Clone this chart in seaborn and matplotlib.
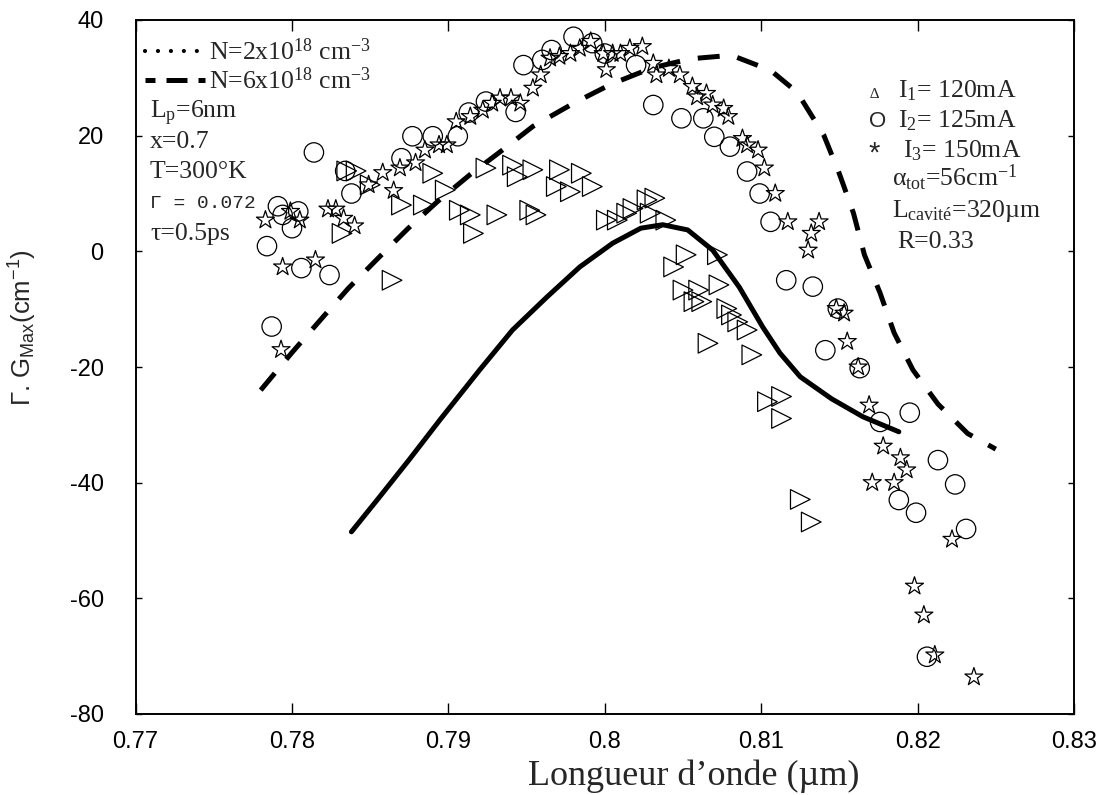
import matplotlib
matplotlib.use("Agg")
import matplotlib.pyplot as plt
from matplotlib.lines import Line2D
import seaborn as sns

# ---------------- data ----------------
# computed gain curve, N = 2e18 cm^-3 (solid)
wl_n2 = [0.7838, 0.7855, 0.7875, 0.7895, 0.7920, 0.7941, 0.7963, 0.7984, 0.8005,
         0.8023, 0.8037, 0.8053, 0.8069, 0.8086, 0.8101, 0.8112, 0.8125, 0.8145,
         0.8165, 0.8188]
gain_n2 = [-48.5, -42.8, -36.0, -29.0, -20.5, -13.6, -7.9, -2.7, 1.4,
           4.0, 4.6, 3.7, 0.2, -6.2, -13.1, -17.6, -21.7, -25.5,
           -28.6, -31.2]

# computed gain curve, N = 6e18 cm^-3 (dashed)
wl_n6 = [0.7780, 0.7800, 0.7820, 0.7836, 0.7855, 0.7874, 0.7893, 0.7914, 0.7935,
         0.7954, 0.7980, 0.8004, 0.8030, 0.8055, 0.8081, 0.8106, 0.8123, 0.8140,
         0.8150, 0.8159, 0.8166, 0.8176, 0.8185, 0.8197, 0.8213, 0.8232, 0.8250]
gain_n6 = [-24.0, -17.5, -11.3, -6.4, -1.2, 3.9, 8.6, 13.3, 17.6,
           21.6, 25.6, 28.9, 31.7, 33.3, 33.9, 31.3, 27.5, 20.1,
           13.4, 6.6, -0.6, -7.2, -14.1, -20.5, -26.4, -31.5, -34.2]

# measured gain, I1 = 120 mA
wl_i1 = [0.7835, 0.7841, 0.7850, 0.7832, 0.7864, 0.7870, 0.7884, 0.7890, 0.7898,
         0.7907, 0.7914, 0.7916, 0.7931, 0.7952, 0.7956, 0.7924, 0.7941, 0.7944,
         0.7954, 0.7971, 0.7969, 0.7978, 0.7985, 0.7992, 0.8001, 0.8008, 0.8014,
         0.8018, 0.8027, 0.8032, 0.8029, 0.8039, 0.8044, 0.8052, 0.8050, 0.8060,
         0.8057, 0.8062, 0.8072, 0.8073, 0.8078, 0.8081, 0.8085, 0.8091, 0.8066,
         0.8094, 0.8104, 0.8113, 0.8113, 0.8125, 0.8132]
gain_i1 = [13.9, 13.9, 11.5, 3.1, -5.0, 8.0, 8.0, 13.5, 10.6,
           7.1, 6.3, 3.1, 6.3, 7.1, 6.3, 14.4, 14.9, 12.9,
           14.1, 14.1, 11.2, 10.3, 13.5, 11.2, 5.4, 5.4, 6.6,
           7.4, 8.9, 9.2, 6.6, 5.4, -2.7, -0.6, -6.7, -6.7,
           -8.7, -8.7, -0.6, -5.8, -9.9, -11.0, -12.2, -13.6, -15.9,
           -17.9, -26.0, -25.1, -28.9, -42.9, -46.8]

# measured gain, I2 = 125 mA
wl_i2 = [0.7787, 0.7784, 0.7814, 0.7834, 0.7838, 0.7791, 0.7804, 0.7794, 0.7800,
         0.7806, 0.7824, 0.7870, 0.7877, 0.7890, 0.7906, 0.7913, 0.7924, 0.7943,
         0.7948, 0.7960, 0.7966, 0.7980, 0.7992, 0.8000, 0.8020, 0.8031, 0.8049,
         0.8063, 0.8070, 0.8080, 0.8091, 0.8099, 0.8106, 0.8116, 0.8133, 0.8149,
         0.8141, 0.8163, 0.8176, 0.8195, 0.8213, 0.8224, 0.8188, 0.8199, 0.8231,
         0.8206]
gain_i2 = [-13.0, 0.9, 17.1, 13.9, 10.0, 7.8, 6.9, 6.3, 4.0,
           -2.9, -4.1, 16.1, 19.9, 19.9, 19.9, 24.0, 25.9, 24.1,
           32.2, 33.1, 34.8, 37.1, 36.0, 34.2, 32.2, 25.3, 23.0,
           23.0, 19.8, 18.1, 13.8, 10.0, 5.1, -5.0, -6.1, -9.9,
           -17.1, -20.2, -29.5, -27.9, -36.1, -40.3, -43.0, -45.2, -48.0,
           -70.1]

# measured gain, I3 = 150 mA
wl_i3 = [0.7793, 0.7783, 0.7799, 0.7805, 0.7823, 0.7828, 0.7833, 0.7840, 0.7794,
         0.7815, 0.7849, 0.7858, 0.7869, 0.7879, 0.7865, 0.7885, 0.7894, 0.7899,
         0.7905, 0.7914, 0.7922, 0.7928, 0.7946, 0.7933, 0.7940, 0.7954, 0.7959,
         0.7965, 0.7971, 0.7978, 0.7984, 0.7991, 0.8001, 0.7999, 0.8005, 0.8010,
         0.8016, 0.8024, 0.8031, 0.8033, 0.8041, 0.8048, 0.8056, 0.8059, 0.8065,
         0.8069, 0.8076, 0.8079, 0.8088, 0.8091, 0.8098, 0.8102, 0.8109, 0.8117,
         0.8137, 0.8132, 0.8130, 0.8148, 0.8153, 0.8155, 0.8162, 0.8169, 0.8178,
         0.8189, 0.8193, 0.8171, 0.8185, 0.8222, 0.8198, 0.8204, 0.8211, 0.8236]
gain_i3 = [-17.0, 5.4, 6.9, 5.4, 7.3, 7.3, 5.7, 4.4, -2.7,
           -1.5, 11.5, 13.6, 14.4, 15.3, 10.5, 17.5, 18.4, 18.4,
           22.4, 23.3, 24.4, 25.6, 25.6, 26.5, 26.5, 28.2, 30.5,
           33.4, 33.7, 34.2, 35.1, 36.3, 31.4, 34.2, 34.2, 34.2,
           35.1, 35.4, 32.5, 30.5, 31.6, 30.5, 28.5, 26.7, 27.3,
           25.3, 24.7, 23.3, 19.5, 18.4, 17.5, 14.4, 10.0, 5.1,
           5.1, 3.1, 0.2, -9.9, -10.7, -15.6, -20.0, -26.6, -33.7,
           -35.7, -37.8, -40.0, -40.0, -49.8, -57.9, -62.9, -69.8, -73.6]

xticks = [0.77, 0.78, 0.79, 0.80, 0.81, 0.82, 0.83]
xtick_labels = ["0.77", "0.78", "0.79", "0.8", "0.81", "0.82", "0.83"]
yticks = [-80, -60, -40, -20, 0, 20, 40]

legend_labels = [r"N=2x10$^{18}$ cm$^{-3}$", r"N=6x10$^{18}$ cm$^{-3}$"]
left_notes = [r"L$_{p}$=6nm", "x=0.7", "T=300°K", "Γ = 0.072", "τ=0.5ps"]
current_labels = [r"I$_{1}$= 120mA", r"I$_{2}$= 125mA", r"I$_{3}$= 150mA"]
right_notes = [r"α$_{tot}$=56cm$^{-1}$", r"L$_{cavité}$=320µm", "R=0.33"]

# ---------------- style ----------------
sns.set_theme(style="ticks")
plt.rcParams.update({
    "font.family": ["Liberation Sans", "DejaVu Sans"],
    "mathtext.default": "regular",
    "axes.unicode_minus": False,
    "axes.edgecolor": "black",
    "axes.linewidth": 1.4,
    "xtick.color": "black",
    "ytick.color": "black",
})

SERIF = ["Liberation Serif", "DejaVu Serif"]
SANS = ["Liberation Sans", "DejaVu Sans"]

W, H = 1100, 795
fig = plt.figure(figsize=(W / 100, H / 100), dpi=100)
fig.patch.set_facecolor("white")
L, R, T, B = 135.6, 1074.0, 20.0, 714.0
ax = fig.add_axes([L / W, 1 - B / H, (R - L) / W, (B - T) / H])
ax.set_facecolor("white")


def fxy(px, py):
    """pixel position -> figure fraction"""
    return px / W, 1 - py / H


# ---------------- curves ----------------
sns.lineplot(x=wl_n2, y=gain_n2, color="black", linewidth=3.6, sort=False,
             estimator=None, ax=ax, zorder=2)
sns.lineplot(x=wl_n6, y=gain_n6, color="black", linewidth=3.6, sort=False,
             estimator=None, linestyle=(0, (4.4, 3.6)), ax=ax, zorder=2)

# ---------------- measured points ----------------
marker_kw = dict(facecolor="none", edgecolor="black", linewidth=0.9,
                 legend=False, ax=ax, zorder=3)
sns.scatterplot(x=wl_i1, y=gain_i1, marker=">", s=200, **marker_kw)
sns.scatterplot(x=wl_i2, y=gain_i2, marker="o", s=195, **marker_kw)
sns.scatterplot(x=wl_i3, y=gain_i3, marker="*", s=185, **marker_kw)

# ---------------- axes ----------------
ax.set_xlim(0.77, 0.83)
ax.set_ylim(-80, 40)
ax.set_xticks(xticks)
ax.set_xticklabels(xtick_labels)
ax.set_yticks(yticks)
ax.tick_params(direction="in", top=True, right=True, width=1.0,
               labelsize=17)
ax.tick_params(axis="x", length=8, pad=12.5)
ax.tick_params(axis="y", length=4.5, pad=23)
for lab in ax.get_xticklabels() + ax.get_yticklabels():
    lab.set_family(SANS)
for sp in ax.spines.values():
    sp.set_visible(True)
    sp.set_color("black")

ax.set_xlabel("Longueur d’onde (µm)", family=SERIF, fontsize=26)
ax.xaxis.label.set_va("baseline")
ax.xaxis.set_label_coords((694 - L) / (R - L), -(785 - B) / (B - T))

ax.set_ylabel(r"Γ. G$_{Max}$(cm$^{-1}$)", family=SANS, fontsize=18.5)
ax.yaxis.label.set_va("center")
ax.yaxis.set_label_coords((23 - L) / (R - L), (B - 328) / (B - T))

# ---------------- legend ----------------
handles = [
    Line2D([], [], color="black", lw=3.0, linestyle=(0, (0.01, 3.1)),
           dash_capstyle="round"),
    Line2D([], [], color="black", lw=3.6, linestyle=(2.2, (4.2, 2.2))),
]
ax.legend(handles=handles, labels=legend_labels, loc="upper left",
          bbox_to_anchor=fxy(145, 38), bbox_transform=fig.transFigure,
          frameon=False, handlelength=2.35, handletextpad=0.15,
          labelspacing=0.12, borderpad=0, borderaxespad=0,
          prop={"family": SERIF, "size": 18.5})

# ---------------- annotations ----------------
left_baselines = [118, 148, 178, 208, 240]
for txt, yb in zip(left_notes, left_baselines):
    if txt.startswith("Γ"):
        fig.text(*fxy(150, yb), txt, family=["Liberation Mono", "DejaVu Sans Mono"],
                 fontsize=14, va="baseline", ha="left")
    else:
        fig.text(*fxy(150, yb), txt, family=SERIF, fontsize=18.5,
                 va="baseline", ha="left")

current_baselines = [97, 127, 157]
fig.text(*fxy(870, 97.5), "∆", family=SERIF, fontsize=11, va="baseline")
fig.text(*fxy(869, 127), "O", family=SANS, fontsize=16, va="baseline")
fig.text(*fxy(868, 162), "*", family=SANS, fontsize=21, va="baseline")
for txt, yb, xp in zip(current_labels, current_baselines, [898, 898, 903]):
    fig.text(*fxy(xp, yb), txt, family=SERIF, fontsize=18.5,
             va="baseline", ha="left")
for txt, yb, xp in zip(right_notes, [186, 217, 248], [892, 892, 897]):
    fig.text(*fxy(xp, yb), txt, family=SERIF, fontsize=18.5,
             va="baseline", ha="left")

fig.savefig("out.png", dpi=100, facecolor="white")
